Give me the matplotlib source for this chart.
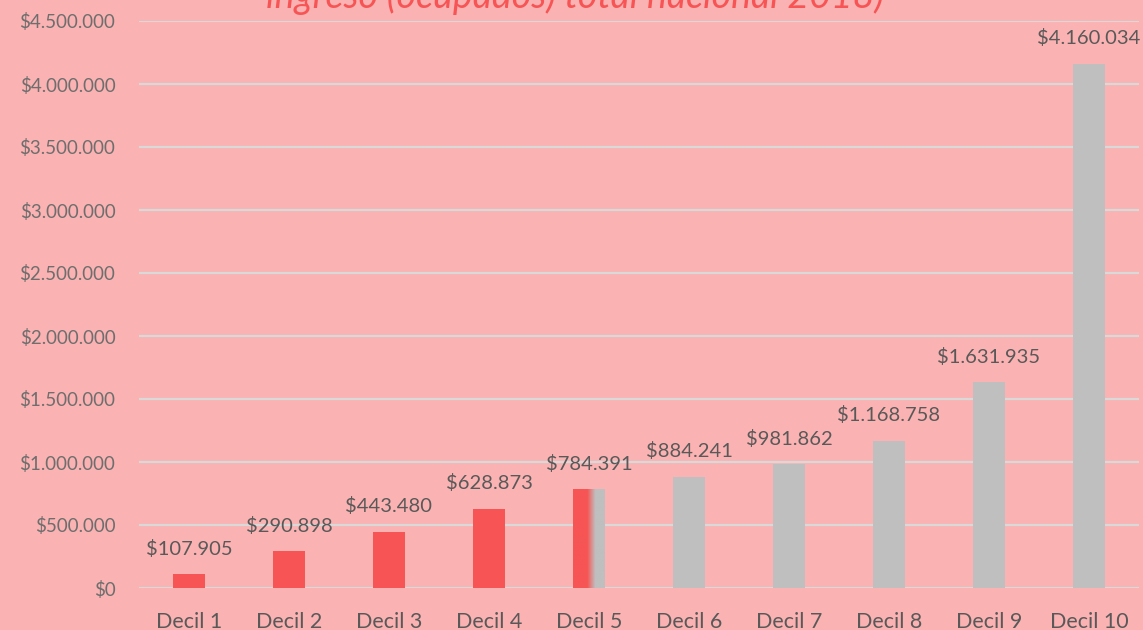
import matplotlib.pyplot as plt
import numpy as np
from matplotlib.colors import LinearSegmentedColormap

# Data
deciles = ['Decil 1', 'Decil 2', 'Decil 3', 'Decil 4', 'Decil 5',
           'Decil 6', 'Decil 7', 'Decil 8', 'Decil 9', 'Decil 10']
ingresos = [107905, 290898, 443480, 628873, 784391,
            884241, 981862, 1168758, 1631935, 4160034]
y_ticks = [0, 500000, 1000000, 1500000, 2000000, 2500000, 3000000, 3500000, 4000000, 4500000]
title = 'ingreso (ocupados) total nacional 2018)'

BG = '#FBB2B2'
RED = '#F75555'
GRAY = '#BFBFBF'
TEXT = '#595959'


def fmt(v):
    return '$' + f'{v:,}'.replace(',', '.')


plt.rcParams['font.family'] = ['Lato', 'DejaVu Sans']

fig = plt.figure(figsize=(11.43, 6.3), dpi=100)
fig.patch.set_facecolor(BG)
ax = fig.add_axes([139 / 1143, 42 / 630, 1000 / 1143, 567 / 630])
ax.set_facecolor(BG)

x = np.arange(len(deciles))
colors = [RED] * 4 + [GRAY] * 6
bars = ax.bar(x, ingresos, width=0.32, color=colors, zorder=3)

# Decil 5: red -> gray gradient inside the bar
b = bars[4]
bx0, bw, bh = b.get_x(), b.get_width(), b.get_height()
b.set_facecolor('none')
cmap = LinearSegmentedColormap.from_list('g', [(0, RED), (0.45, RED), (0.7, GRAY), (1, GRAY)])
grad = np.linspace(0, 1, 200).reshape(1, -1)
ax.imshow(grad, cmap=cmap, aspect='auto', extent=(bx0, bx0 + bw, 0, bh), zorder=3)

for xi, v in zip(x, ingresos):
    ax.annotate(fmt(v), (xi, v), xytext=(0, 12), textcoords='offset points',
                ha='center', va='bottom', fontsize=14.5, color=TEXT)

ax.set_xlim(-0.5, 9.5)
ax.set_ylim(0, 4500000)
ax.set_xticks(x)
ax.set_xticklabels(deciles, fontsize=15.5, color=TEXT)
ax.set_yticks(y_ticks)
ax.set_yticklabels([fmt(t) for t in y_ticks], fontsize=13.5, color='#6E6E6E')
ax.tick_params(axis='x', length=0, pad=17)
ax.tick_params(axis='y', length=0, pad=17)
ax.grid(axis='y', color='#D9D9D9', linewidth=1.6, zorder=0)
ax.set_axisbelow(True)
for s in ax.spines.values():
    s.set_visible(False)

# title sits partly above the top edge, as in the reference
fig.text(575 / 1143, 1 - 8 / 630, title, ha='center', va='baseline',
         fontsize=27, style='italic', color='#F75555')

fig.savefig('out.png', dpi=100, facecolor=BG)
